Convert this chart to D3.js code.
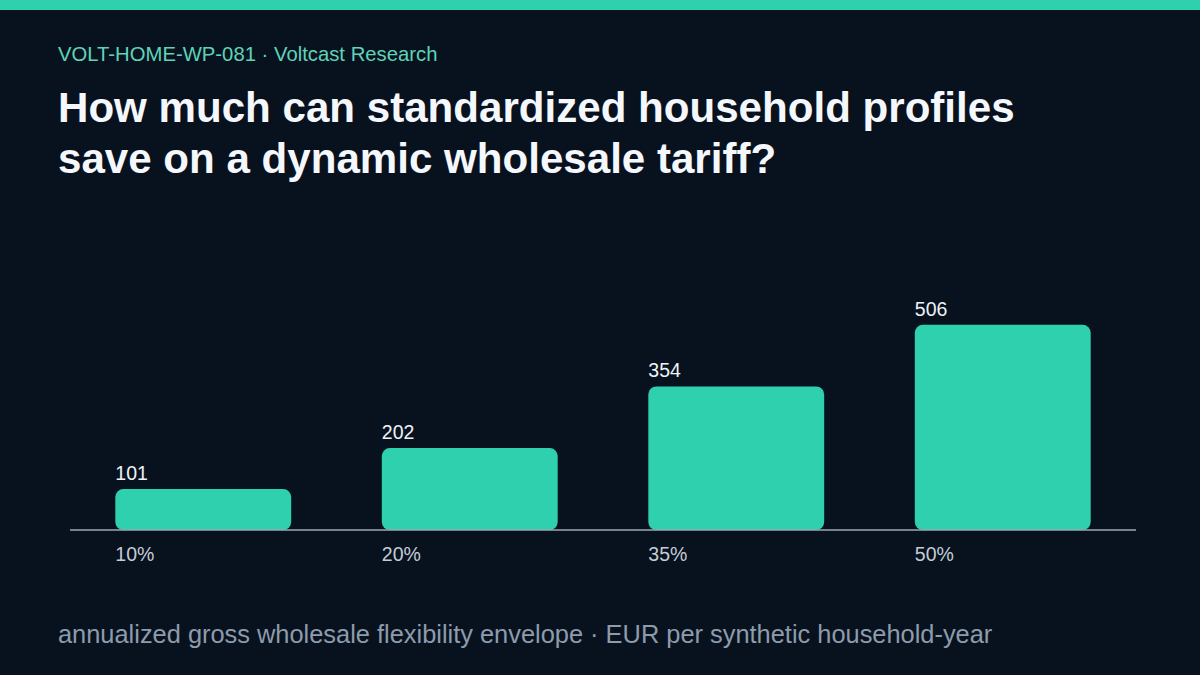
<!DOCTYPE html>
<html>
<head>
<meta charset="utf-8">
<script src="https://cdn.jsdelivr.net/npm/d3@7"></script>
<style>
  html, body { margin: 0; padding: 0; background: #08121e; }
  body { width: 1200px; height: 675px; overflow: hidden; }
  text { font-family: "Liberation Sans", Arial, sans-serif; }
</style>
</head>
<body>
<div id="chart-area"></div>
<script>
// chart data
var shares = ["10%", "20%", "35%", "50%"];
var savings = [101, 202, 354, 506];

var titleLines = ["How much can standardized household profiles",
                  "save on a dynamic wholesale tariff?"];
var kicker = "VOLT-HOME-WP-081 \u00b7 Voltcast Research";
var footer = "annualized gross wholesale flexibility envelope \u00b7 EUR per synthetic household-year";

var W = 1200, H = 675;
var margin = {left: 70, right: 64, top: 230, bottom: 145};

var svg = d3.select("#chart-area")
    .append("svg")
      .attr("width", W)
      .attr("height", H);

svg.append("rect")
    .attr("width", W).attr("height", H)
    .attr("fill", "#08121e");

// top band
svg.append("rect")
    .attr("width", W).attr("height", 10)
    .attr("fill", "#2fd0ad");

svg.append("text")
    .attr("x", 58).attr("y", 61)
    .attr("font-size", "20.3px")
    .attr("fill", "#5fd3b8")
    .text(kicker);

svg.selectAll(".title")
    .data(titleLines)
    .enter().append("text")
      .attr("class", "title")
      .attr("x", 58)
      .attr("y", function(d, i){ return 122 + i * 51; })
      .attr("font-size", "42.1px")
      .attr("font-weight", "bold")
      .attr("fill", "#f4f7fb")
      .text(function(d){ return d; });

//Scales
var x = d3.scaleBand()
    .domain(shares)
    .range([margin.left, W - margin.right])
    .paddingInner(0.34)
    .paddingOuter(0.17);

var y = d3.scaleLinear()
    .domain([0, 740])
    .range([H - margin.bottom, margin.top]);

// bars
svg.selectAll(".bar")
    .data(savings)
    .enter().append("rect")
      .attr("class", "bar")
      .attr("x", function(d, i){ return x(shares[i]); })
      .attr("y", function(d){ return y(d); })
      .attr("width", x.bandwidth())
      .attr("height", function(d){ return y(0) - y(d); })
      .attr("rx", 8)
      .attr("fill", "#2fd0ad");

// baseline
svg.append("line")
    .attr("x1", margin.left).attr("x2", W - margin.right)
    .attr("y1", y(0)).attr("y2", y(0))
    .attr("stroke", "#9aa8b8")
    .attr("stroke-width", 1.5);

// value labels
svg.selectAll(".val")
    .data(savings)
    .enter().append("text")
      .attr("class", "val")
      .attr("x", function(d, i){ return x(shares[i]); })
      .attr("y", function(d){ return y(d) - 9; })
      .attr("font-size", "19.5px")
      .attr("fill", "#eef2f7")
      .text(function(d){ return d; });

// category labels
var xAxisCall = d3.axisBottom(x).tickSize(0).tickPadding(0);
var xAxis = svg.append("g")
    .attr("transform", "translate(0," + y(0) + ")")
    .call(xAxisCall);
xAxis.select(".domain").remove();
xAxis.selectAll("text")
    .attr("x", -x.bandwidth() / 2)
    .attr("y", 31)
    .attr("dy", 0)
    .attr("text-anchor", "start")
    .attr("font-size", "19.5px")
    .attr("font-family", "Liberation Sans, Arial, sans-serif")
    .attr("fill", "#c3ccd7");

svg.append("text")
    .attr("x", 58).attr("y", 643)
    .attr("font-size", "25.4px")
    .attr("fill", "#8d9bac")
    .text(footer);
</script>
</body>
</html>
